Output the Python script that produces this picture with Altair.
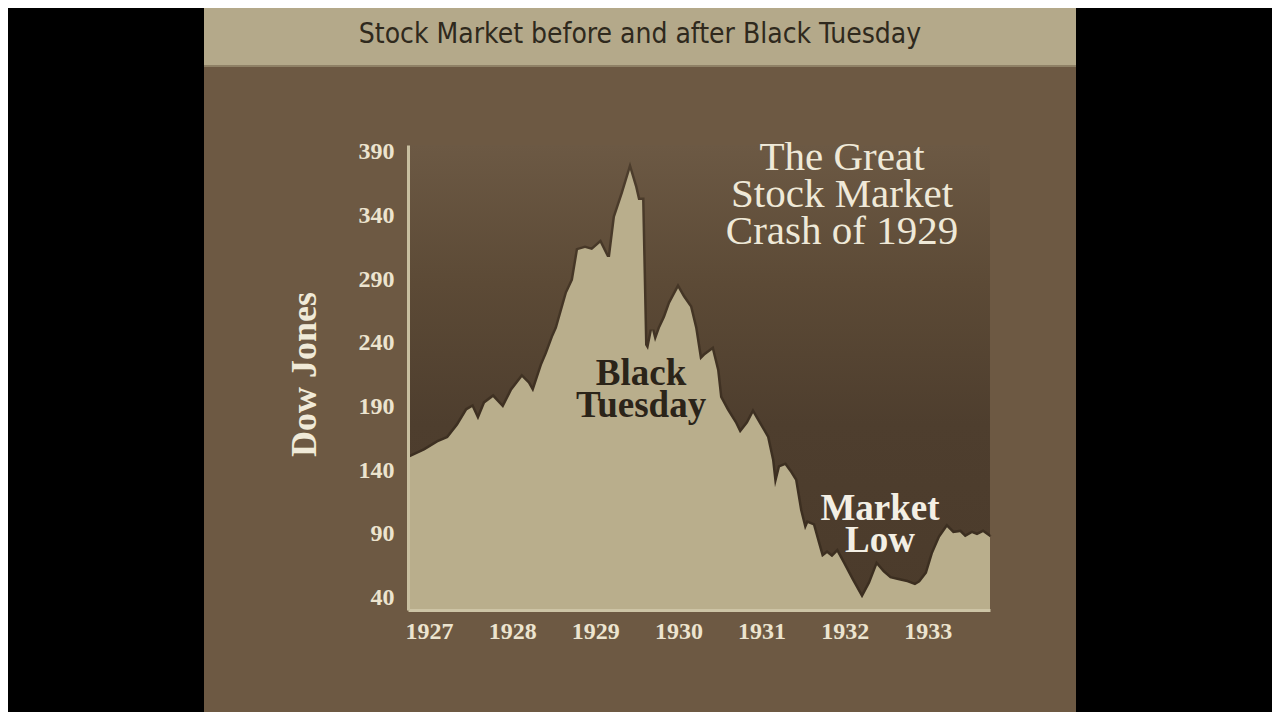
import altair as alt
import pandas as pd

# Dow Jones Industrial Average
years = [1927.000, 1927.024, 1927.204, 1927.361, 1927.481, 1927.601, 1927.710, 1927.770, 1927.842, 1927.926,
         1928.022, 1928.143, 1928.251, 1928.371, 1928.443, 1928.504, 1928.612, 1928.672, 1928.744, 1928.792,
         1928.912, 1928.985, 1929.045, 1929.129, 1929.213, 1929.310, 1929.394, 1929.430, 1929.490, 1929.586,
         1929.670, 1929.731, 1929.767, 1929.815, 1929.851, 1929.887, 1929.935, 1929.971, 1930.031, 1930.092,
         1930.152, 1930.248, 1930.308, 1930.392, 1930.453, 1930.513, 1930.573, 1930.657, 1930.717, 1930.753,
         1930.837, 1930.933, 1930.993, 1931.089, 1931.150, 1931.234, 1931.318, 1931.378, 1931.414, 1931.474,
         1931.534, 1931.595, 1931.655, 1931.715, 1931.775, 1931.811, 1931.871, 1931.931, 1931.979, 1932.040,
         1932.100, 1932.160, 1932.232, 1932.340, 1932.461, 1932.557, 1932.641, 1932.713, 1932.797, 1932.894,
         1933.002, 1933.098, 1933.158, 1933.242, 1933.315, 1933.399, 1933.483, 1933.555, 1933.639, 1933.700,
         1933.784, 1933.844, 1933.916, 1934.000]
dow = [149.3, 150.1, 155.6, 161.9, 165.1, 175.3, 187.1, 189.4, 179.2, 192.6,
       197.3, 188.7, 202.8, 213.0, 208.3, 201.2, 222.5, 231.9, 244.5, 251.6,
       279.1, 289.3, 312.9, 314.5, 312.9, 318.4, 307.4, 307.4, 338.9, 357.8,
       375.8, 362.5, 352.2, 352.2, 238.2, 234.3, 250.0, 240.6, 251.6, 260.2,
       271.2, 283.0, 276.0, 268.1, 251.6, 226.4, 230.3, 234.3, 218.5, 197.3,
       187.1, 176.9, 169.0, 176.9, 184.7, 175.3, 165.8, 147.8, 126.5, 142.2,
       143.8, 138.3, 132.0, 108.4, 92.7, 98.2, 96.6, 82.5, 71.5, 74.6,
       71.5, 75.4, 66.7, 53.4, 39.2, 51.0, 65.2, 59.7, 54.9, 53.4,
       51.8, 49.4, 51.8, 58.9, 74.6, 87.2, 95.1, 90.3, 91.1, 87.2,
       90.3, 88.8, 91.1, 87.2]

tick_years = [1927, 1928, 1929, 1930, 1931, 1932, 1933]
y_ticks = [40, 90, 140, 190, 240, 290, 340, 390]

title_text = "Stock Market before and after Black Tuesday"
headline = ["The Great", "Stock Market", "Crash of 1929"]
label_bt = ["Black", "Tuesday"]
label_low = ["Market", "Low"]
axis_title = "Dow Jones"

W, H = 582, 465
SERIF = "Liberation Serif"

df = pd.DataFrame({"year": years, "dow": dow})
one = pd.DataFrame({"k": [0]})

x_enc = alt.X(
    "year:Q",
    scale=alt.Scale(domain=[1927, 1934], nice=False, zero=False),
    axis=alt.Axis(values=tick_years, format="d", title=None, ticks=False, grid=False,
                  labelAlign="left", labelOffset=-3, labelPadding=9, labelFlush=False,
                  labelFont=SERIF, labelFontSize=24, labelFontWeight="bold",
                  labelColor="#ece4cf", domainColor="#cdc4a5", domainWidth=3, zindex=1),
)
y_enc = alt.Y(
    "dow:Q",
    scale=alt.Scale(domain=[30, 395.5], nice=False, zero=False),
    axis=alt.Axis(values=y_ticks, title=axis_title, ticks=False, grid=False,
                  labelPadding=14, labelFont=SERIF, labelFontSize=24, labelFontWeight="bold",
                  labelColor="#ece4cf", domainColor="#c8bfa0", domainWidth=3,
                  titleX=-93, titleY=229, titleAngle=-90, titleAlign="center",
                  titleBaseline="alphabetic", titleFont=SERIF, titleFontSize=36,
                  titleFontWeight="bold", titleColor="#f0ead8", zindex=1),
)

panel = alt.Chart(one).mark_rect(color="#6d5943").encode(
    x=alt.value(-204), x2=alt.value(668), y=alt.value(-78), y2=alt.value(575))
header = alt.Chart(one).mark_rect(color="#b4a98a").encode(
    x=alt.value(-204), x2=alt.value(668), y=alt.value(-145), y2=alt.value(-78))
header_line = alt.Chart(one).mark_rect(color="#8f8166").encode(
    x=alt.value(-204), x2=alt.value(668), y=alt.value(-80), y2=alt.value(-78))
header_text = alt.Chart(one).mark_text(
    text=title_text, font="DejaVu Sans Condensed", fontSize=28, color="#2f291d",
    align="center", baseline="middle").encode(x=alt.value(232), y=alt.value(-110))

grad = alt.Chart(one).mark_rect(
    color=alt.Gradient(
        gradient="linear",
        stops=[alt.GradientStop(color="#6c5944", offset=0),
               alt.GradientStop(color="#5c4a36", offset=0.3),
               alt.GradientStop(color="#4e3e2e", offset=0.6),
               alt.GradientStop(color="#4b3b2b", offset=1)],
        x1=0, x2=0, y1=0, y2=1)
).encode(x=alt.value(0), x2=alt.value(W), y=alt.value(0), y2=alt.value(H))

shadow = alt.Chart(df).mark_line(color="#2a1f15", strokeWidth=5, opacity=0.45).encode(
    x=x_enc, y=y_enc)
area = alt.Chart(df).mark_area(color="#b9ae8c").encode(
    x=x_enc, y=y_enc, y2=alt.datum(30))

t_head = alt.Chart(one).mark_text(
    text=headline, font=SERIF, fontSize=41, lineHeight=37, color="#efe9d8",
    align="center", baseline="middle").encode(x=alt.value(434), y=alt.value(13))
t_bt = alt.Chart(one).mark_text(
    text=label_bt, font=SERIF, fontSize=37, fontWeight="bold", lineHeight=32,
    color="#2b2419", align="center", baseline="middle").encode(x=alt.value(233), y=alt.value(229))
t_low = alt.Chart(one).mark_text(
    text=label_low, font=SERIF, fontSize=37, fontWeight="bold", lineHeight=32,
    color="#f3efe4", align="center", baseline="middle").encode(x=alt.value(472), y=alt.value(364))

chart = alt.layer(
    panel, header, header_line, header_text, grad, shadow, area, t_head, t_bt, t_low
).properties(
    width=W, height=H,
    padding={"left": 400, "top": 137, "right": 282, "bottom": 102},
    autosize=alt.AutoSizeParams(type="none"),
    background="#000000",
).configure_view(stroke=None)

chart.save("out.html", embed_options={"renderer": "svg", "actions": False})
